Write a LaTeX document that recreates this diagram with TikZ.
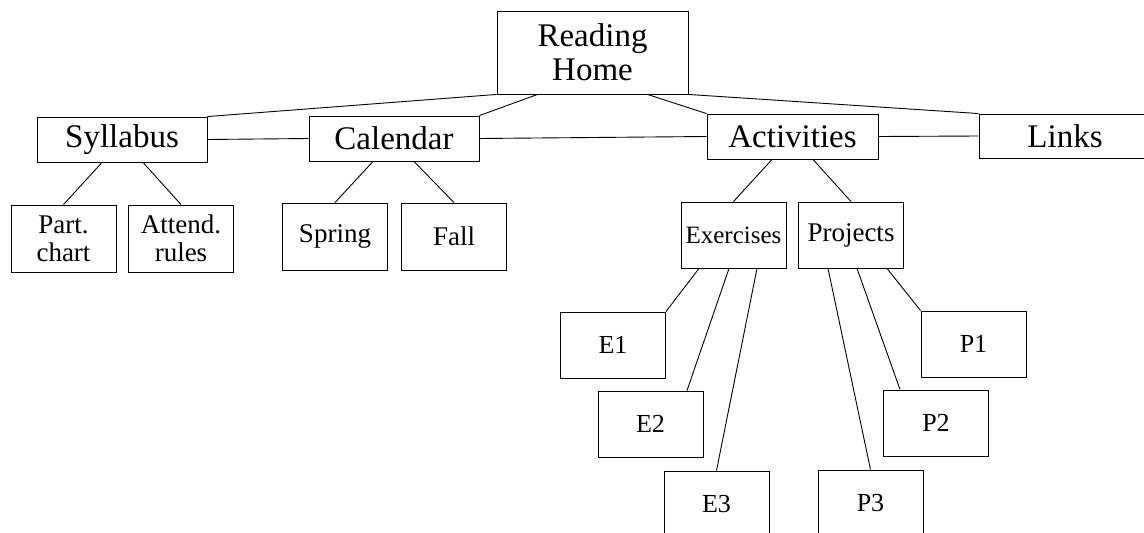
\documentclass[tikz,border=0pt]{standalone}
\usepackage{fontspec}
\setmainfont{Liberation Serif}
\usepackage{tikz}

\tikzset{
  bigbox/.style={draw, line width=0.9pt, inner sep=0pt, align=center,
    minimum width=170pt, minimum height=45pt, font=\fontsize{33}{34}\selectfont},
  smallbox/.style={draw, line width=0.9pt, inner sep=0pt, align=center,
    minimum width=105pt, minimum height=66pt, font=\fontsize{27}{28}\selectfont},
  link/.style={line width=0.9pt}
}

\begin{document}
\begin{tikzpicture}[x=1pt, y=-1pt]
    \useasboundingbox (0,0) rectangle (1144,533);
    \begin{scope}
      \node[bigbox, minimum width=191pt, minimum height=83pt] (home) at (592.5, 52.5) {Reading\\Home};

      \node[bigbox] (syllabus) at (122, 139.5) {Syllabus};
      \node[bigbox] (calendar) at (394, 138.5) {Calendar};
      \node[bigbox, minimum width=171pt] (activities) at (792.5, 136.5) {Activities};
      \node[bigbox, minimum width=172pt, minimum height=44pt] (links) at (1065, 136) {Links};

      \draw[link] (home.south west) -- (syllabus.north east);
      \draw[link] ([xshift=-55pt]home.south) -- (calendar.north east);
      \draw[link] ([xshift=55pt]home.south) -- (activities.north west);
      \draw[link] (home.south east) -- (links.north west);
      \draw[link] (syllabus.east) -- (calendar.west);
      \draw[link] (calendar.east) -- (activities.west);
      \draw[link] (activities.east) -- (links.west);

      \node[smallbox, minimum height=67pt] (partchart) at (63.5, 238.5) {Part.\\chart};
      \node[smallbox, minimum height=67pt] (attend) at (181, 238.5) {Attend.\\rules};
      \draw[link] ([xshift=-20pt]syllabus.south) -- (partchart.north);
      \draw[link] ([xshift=21pt]syllabus.south) -- (attend.north);

      \node[smallbox, minimum height=67pt] (spring) at (335, 236.5) {Spring};
      \node[smallbox, minimum height=67pt] (fall) at (454, 236.5) {Fall};
      \draw[link] ([xshift=-21pt]calendar.south) -- (spring.north);
      \draw[link] ([xshift=20pt]calendar.south) -- (fall.north);

      \node[smallbox, font=\fontsize{25}{26}\selectfont] (exercises) at (733.5, 235) {Exercises};
      \node[smallbox] (projects) at (851, 235) {Projects};
      \draw[link] ([xshift=-20.5pt]activities.south) -- (exercises.north);
      \draw[link] ([xshift=20.5pt]activities.south) -- (projects.north);

      \node[smallbox, font=\fontsize{26}{27}\selectfont] (e1) at (613, 345) {E1};
      \node[smallbox, font=\fontsize{26}{27}\selectfont] (e2) at (650.5, 424) {E2};
      \node[smallbox, font=\fontsize{26}{27}\selectfont] (e3) at (716.5, 504) {E3};
      \draw[link] ([xshift=-34.5pt]exercises.south) -- (e1.north east);
      \draw[link] ([xshift=-4.5pt]exercises.south) -- ([xshift=36.5pt]e2.north);
      \draw[link] ([xshift=23.5pt]exercises.south) -- (e3.north);

      \node[smallbox, font=\fontsize{26}{27}\selectfont] (p1) at (973.5, 344) {P1};
      \node[smallbox, font=\fontsize{26}{27}\selectfont] (p2) at (936, 423) {P2};
      \node[smallbox, font=\fontsize{26}{27}\selectfont] (p3) at (870.5, 503) {P3};
      \draw[link] ([xshift=36pt]projects.south) -- (p1.north west);
      \draw[link] ([xshift=6pt]projects.south) -- ([xshift=-36pt]p2.north);
      \draw[link] ([xshift=-23pt]projects.south) -- (p3.north);
    \end{scope}
\end{tikzpicture}
\end{document}
